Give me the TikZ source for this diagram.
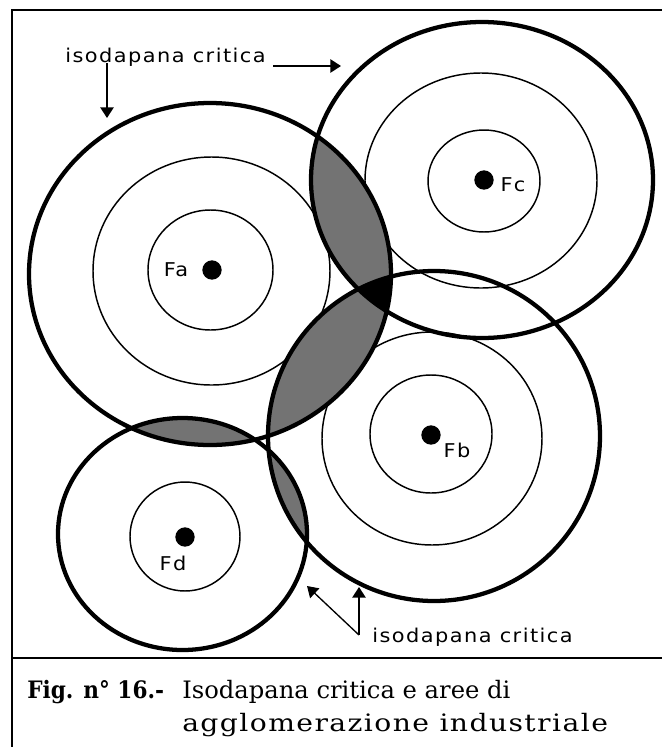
\documentclass[tikz,border=0pt]{standalone}
\usepackage{fontspec}
\newfontfamily\geneva[LetterSpace=7]{DejaVu Sans}
\newfontfamily\nyork{DejaVu Serif}
\newfontfamily\nyorkls[LetterSpace=5]{DejaVu Serif}
\newfontfamily\nyorkb{DejaVu Serif Bold}
\usetikzlibrary{arrows.meta}
\def\pA{(210,274) ellipse [x radius=181, y radius=171]}
\def\pC{(482,180) ellipse [x radius=171, y radius=158]}
\def\pB{(434,436) ellipse [x radius=166, y radius=165]}
\def\pD{(182.5,534) ellipse [x radius=124.5, y radius=116]}
\newcommand{\gw}[1]{\scalebox{1.1}[1]{#1}}
\begin{document}
\begin{tikzpicture}[x=0.75pt,y=-0.75pt,
  thincirc/.style={line width=1.1pt},
  crit/.style={line width=3.2pt},
  lens/.style={fill=black!55},
  ptr/.style={line width=1.3pt,-{Triangle[length=8pt,width=10pt]}},
  lbl/.style={font={\geneva\fontsize{14.25pt}{16pt}\selectfont}, inner sep=0pt},
  dot/.style={circle, fill=black, minimum size=14.5pt, inner sep=0pt},
  captxt/.style={font={\nyork\fontsize{18pt}{20pt}\selectfont}, inner sep=0pt, anchor=base west},
  captxtls/.style={font={\nyorkls\fontsize{18pt}{20pt}\selectfont}, inner sep=0pt, anchor=base west},
  captxtb/.style={font={\nyorkb\fontsize{18pt}{20pt}\selectfont}, inner sep=0pt, anchor=base west}]
\useasboundingbox (0,0) rectangle (662,747);
\fill[white] (0,0) rectangle (662,747);
% frame
\draw[line width=1.5pt] (12,747) -- (12,10) -- (662,10);
\draw[line width=1.5pt] (12,658) -- (662,658);
% thin isodapanes
\draw[thincirc] (211.5,271) ellipse [x radius=118.5, y radius=114];
\draw[thincirc] (210.5,270) ellipse [x radius=62.5, y radius=60];
\draw[thincirc] (481,180.5) ellipse [x radius=116, y radius=107.5];
\draw[thincirc] (484,181) ellipse [x radius=56, y radius=51];
\draw[thincirc] (432,438.5) ellipse [x radius=110, y radius=106.5];
\draw[thincirc] (431,434) ellipse [x radius=61, y radius=59];
\draw[thincirc] (185,536.5) ellipse [x radius=55, y radius=54.5];
% agglomeration areas
\begin{scope}\clip \pA; \fill[lens] \pC; \end{scope}
\begin{scope}\clip \pA; \fill[lens] \pB; \end{scope}
\begin{scope}\clip \pA; \fill[lens] \pD; \end{scope}
\begin{scope}\clip \pB; \fill[lens] \pD; \end{scope}
\begin{scope}\clip \pA; \clip \pB; \fill[black] \pC; \end{scope}
% critical isodapanes
\draw[crit] \pA;
\draw[crit] \pC;
\draw[crit] \pB;
\draw[crit] \pD;
% locations
\node[dot] (da) at (212,270) {};
\node[dot] (dc) at (484,180) {};
\node[dot] (db) at (431,435) {};
\node[dot] (dd) at (185,537) {};
\node[lbl] (la) at (176,270) {\gw{Fa}};
\node[lbl] (lc) at (513,185) {\gw{Fc}};
\node[lbl] (lb) at (457,450) {\gw{Fb}};
\node[lbl] (ld) at (173,563) {\gw{Fd}};
% top label and arrows
\node[lbl, anchor=base west] (lt) at (65,62) {\gw{isodapana critica}};
\coordinate (r1) at (273,66);
\coordinate (r2) at (341,66);
\coordinate (d1) at (107,63);
\coordinate (d2) at (107,118);
\draw[ptr] (r1) -- (r2);
\draw[ptr] (d1) -- (d2);
% bottom label and arrows
\node[lbl, anchor=base west] (lbt) at (372,642) {\gw{isodapana critica}};
\coordinate (v) at (359,635);
\coordinate (t1) at (359,587);
\coordinate (t2) at (307,586);
\draw[ptr] (v) -- (t1);
\draw[ptr, line width=1pt] (v) -- (t2);
% caption
\node[captxtb] (fig) at (27,698) {\scalebox{0.9}[1]{Fig. n° 16.-}};
\node[captxt] (c1) at (182,698) {\scalebox{1.01}[1]{Isodapana critica e aree di}};
\node[captxtls] (c2) at (182,731) {\scalebox{1.176}[1]{agglomerazione industriale}};
\end{tikzpicture}
\end{document}
